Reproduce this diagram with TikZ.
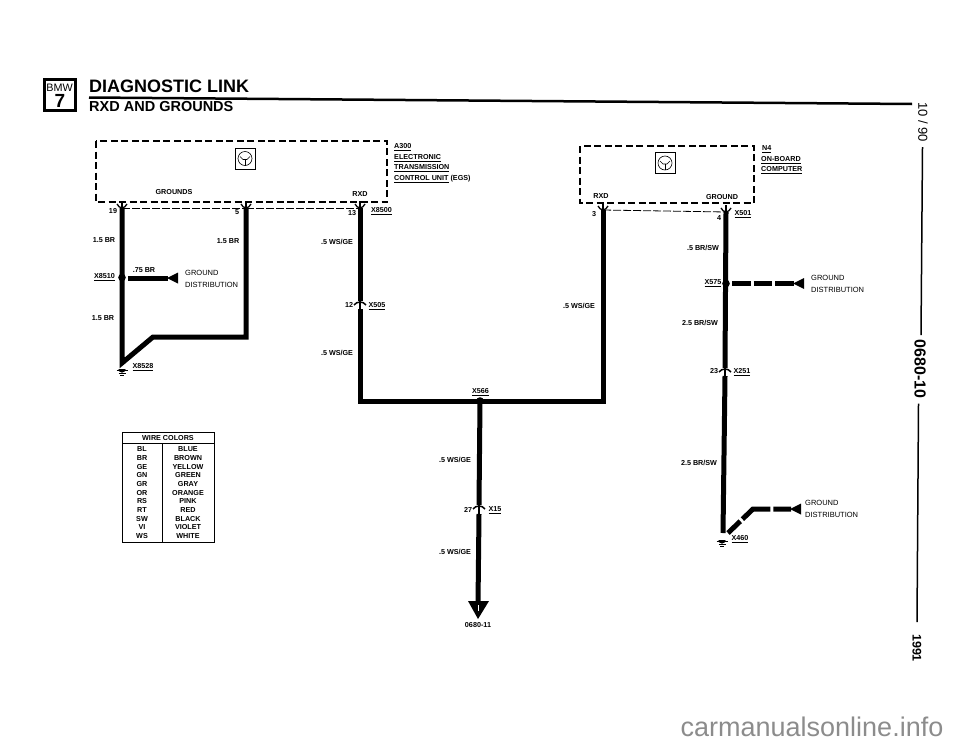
\documentclass[tikz,border=0pt]{standalone}
\usepackage{fontspec}
\setmainfont{Liberation Sans}
\usetikzlibrary{calc}
\tikzset{
  wire/.style={line width=5pt},
  branch/.style={line width=5pt, dash pattern=on 18.7pt off 3pt},
  modbox/.style={line width=1.2pt, dash pattern=on 7pt off 3.5pt},
  shield/.style={line width=0.8pt, dash pattern=on 8pt off 2pt},
  lbl/.style={font=\fontsize{7.2}{8}\selectfont\bfseries, inner sep=0pt},
  dist/.style={font=\fontsize{7.5}{12}\selectfont, align=left, inner sep=0pt, anchor=west},
  tbl/.style={font=\fontsize{7.2}{8}\selectfont\bfseries, inner sep=0pt},
  tip/.style={fill=black}
}
\newcommand{\eculogo}[1]{
  \draw[line width=0.9pt] ($(#1)+(-10,-10.5)$) rectangle ($(#1)+(10,10.5)$);
  \draw[line width=0.6pt] (#1) circle (7);
  \draw[line width=0.6pt] ($(#1)+(-5,-2)$) -- ($(#1)+(-2,1)$) -- ($(#1)+(2,1)$) -- ($(#1)+(5,-2)$);
  \draw[line width=0.6pt] ($(#1)+(0,1)$) -- ($(#1)+(0,7)$);
}
% pin at the foot of a module
\newcommand{\pincup}[1]{
  \draw[line width=1.3pt] ($(#1)+(-5,-4)$) .. controls ($(#1)+(-3,-1)$) .. ($(#1)+(0,0)$) .. controls ($(#1)+(3,-1)$) .. ($(#1)+(5,-4)$);
  \draw[line width=1.2pt] (#1) -- ++(0,-7);
}
% inline connector
\newcommand{\pinline}[1]{
  \draw[line width=1.5pt] ($(#1)+(-6,4)$) .. controls ($(#1)+(-3,0)$) and ($(#1)+(3,0)$) .. ($(#1)+(6,4)$);
  \draw[line width=1.5pt] (#1) -- ++(0,9);
}
\newcommand{\earth}[1]{
  \fill ($(#1)+(-3.6,0)$) arc (180:0:3.6) -- cycle;
  \draw[line width=1.2pt] ($(#1)+(-5.5,1.5)$) -- ++(11,0);
  \draw[line width=0.8pt] ($(#1)+(-3.5,4)$) -- ++(7,0);
  \draw[line width=0.8pt] ($(#1)+(-1.8,6.5)$) -- ++(3.6,0);
}
\begin{document}
\begin{tikzpicture}[x=1pt,y=-1pt]
\useasboundingbox (0,0) rectangle (960,744);

% heading
\draw[line width=3pt] (44.5,79.5) rectangle (75,110.5);
\node[inner sep=0pt, font=\fontsize{10.8}{11}\selectfont] (bmw) at (59.5,88) {BMW};
\node[inner sep=0pt, font=\fontsize{19}{19}\selectfont\bfseries] (seven) at (60,101) {7};
\node[inner sep=0pt, anchor=west, font=\fontsize{18}{18}\selectfont\bfseries] (title) at (89,86) {DIAGNOSTIC LINK};
\node[inner sep=0pt, anchor=west, font=\fontsize{14.5}{15}\selectfont\bfseries] (subtitle) at (89,107) {RXD AND GROUNDS};
\coordinate (ruleA) at (89,97.5);
\coordinate (ruleB) at (912,104);
\draw[line width=2.5pt] (ruleA) -- (ruleB);

% page margin
\node[rotate=-90, inner sep=0pt, font=\fontsize{13}{13}\selectfont] (date) at (923,122) {10 / 90};
\node[rotate=-90, inner sep=0pt, font=\fontsize{16}{16}\selectfont\bfseries] (page) at (920,369) {0680-10};
\node[rotate=-90, inner sep=0pt, font=\fontsize{12.5}{13}\selectfont\bfseries] (year) at (917,648) {1991};
\draw[line width=1.5pt] (date.east) ++(-0.5,5) -- (921,335);
\draw[line width=1.5pt] (page.east) ++(-1.5,5) -- (917,622);

% modules
\draw[modbox] (96,141) rectangle (387,202);
\draw[modbox] (580,146) rectangle (754,203);
\coordinate (logoA) at (245,158.5);
\coordinate (logoB) at (665,163);
\eculogo{logoA}
\eculogo{logoB}
\node[lbl, anchor=west] (a300) at (394,147) {\underline{A300}};
\node[lbl, anchor=west] (egsa) at (394,158) {\underline{ELECTRONIC}};
\node[lbl, anchor=west] (egsb) at (394,168.5) {\underline{TRANSMISSION}};
\node[lbl, anchor=west] (egsc) at (394,179) {\underline{CONTROL UNIT} (EGS)};
\node[lbl, anchor=west] (n4) at (762,149) {\underline{N4}};
\node[lbl, anchor=west] (obca) at (761,160) {\underline{ON-BOARD}};
\node[lbl, anchor=west] (obcb) at (761,170.5) {\underline{COMPUTER}};
\node[lbl] (grounds) at (174,192) {GROUNDS};
\node[lbl] (rxda) at (360,194) {RXD};
\node[lbl] (rxdb) at (601,196) {RXD};
\node[lbl] (groundb) at (722,197) {GROUND};

% pins under the modules
\coordinate (p19) at (122,208);
\coordinate (p5) at (246,208);
\coordinate (p13) at (360,208);
\coordinate (p3) at (603,210);
\coordinate (p4) at (726,212);
\draw[shield] (p19) -- (p5);
\draw[shield] (p5) -- (p13);
\draw[shield] (p3) -- (p4);
\foreach \pn in {p19,p5,p13,p3,p4}
  \pincup{\pn};
\node[lbl] (n19) at (113,211) {19};
\node[lbl] (n5) at (237,212) {5};
\node[lbl] (n13) at (352,213) {13};
\node[lbl] (n3) at (594,214) {3};
\node[lbl] (n4pin) at (719,218) {4};
\node[lbl] (x8500) at (381.5,211) {\underline{X8500}};
\node[lbl] (x501) at (743,214) {\underline{X501}};

% ground loop of the gearbox unit
\coordinate (gndA) at (122,363);
\coordinate (kink) at (153,337);
\coordinate (cornerA) at (246,337);
\coordinate (x8510) at (122,277.5);
\draw[wire, line join=miter] (p19) -- (gndA) -- (kink) -- (cornerA) -- (p5);
\fill (x8510) circle (3.8);
\coordinate (stubA) at (128,278);
\coordinate (stubB) at (168,278);
\draw[wire] (stubA) -- (stubB);
\fill[tip] (167,278) -- (178,272.5) -- (178,283.5) -- cycle;
\coordinate (earthA) at (122,369);
\earth{earthA}
\node[lbl] (w1) at (104,240) {1.5 BR};
\node[lbl] (w2) at (228,241) {1.5 BR};
\node[lbl] (w3) at (144,270) {.75 BR};
\node[lbl] (w4) at (103,318) {1.5 BR};
\node[lbl] (lx8510) at (104.5,277) {\underline{X8510}};
\node[lbl] (lx8528) at (143,367) {\underline{X8528}};
\node[dist] (distA) at (185,279) {GROUND\\DISTRIBUTION};

% RXD lines
\coordinate (x505) at (360,301);
\coordinate (x505b) at (360,309);
\coordinate (botA) at (360,401);
\coordinate (botB) at (603,401);
\coordinate (x566) at (480,401);
\coordinate (x15) at (479,505);
\coordinate (x15b) at (479,514);
\coordinate (arrowend) at (478,604);
\draw[wire] (p13) -- (x505);
\draw[wire, line join=miter] (x505b) -- (botA) -- (botB) -- (p3);
\draw[wire] (x566) -- (x15);
\draw[wire] (x15b) -- (arrowend);
\fill (x566) circle (3.8);
\pinline{x505}
\pinline{x15}
\fill[tip] (468,601) -- (489,601) -- (478,619) -- cycle;
\draw[white, line width=0.8pt] (478,605) -- (478,611);
\node[lbl] (w5) at (337,242) {.5 WS/GE};
\node[lbl] (w6) at (337,353) {.5 WS/GE};
\node[lbl] (w7) at (579,306) {.5 WS/GE};
\node[lbl] (w8) at (455,460) {.5 WS/GE};
\node[lbl] (w9) at (455,552) {.5 WS/GE};
\node[lbl] (n12) at (349,305) {12};
\node[lbl] (lx505) at (377,306) {\underline{X505}};
\node[lbl] (lx566) at (480.5,392) {\underline{X566}};
\node[lbl] (n27) at (468,510) {27};
\node[lbl] (lx15) at (495,510) {\underline{X15}};
\node[lbl] (ref) at (478,625.5) {0680-11};

% ground line of the computer
\coordinate (x251) at (725,368);
\coordinate (x251b) at (725,376);
\coordinate (gndB) at (723,533);
\coordinate (x575) at (726,283.5);
\draw[wire] (p4) -- (x251);
\draw[wire] (x251b) -- (gndB);
\pinline{x251}
\fill (x575) circle (3.8);
\coordinate (stubC) at (732,283.5);
\coordinate (stubD) at (794,283.5);
\draw[branch] (stubC) -- (stubD);
\fill[tip] (793,283.5) -- (804,278) -- (804,289) -- cycle;
\coordinate (stubE) at (728,533);
\coordinate (kinkB) at (753,509);
\coordinate (stubF) at (791,509);
\draw[wire, dash pattern=on 17pt off 3pt on 32pt off 3pt on 30pt off 0pt, line join=miter] (stubE) -- (kinkB) -- (stubF);
\fill[tip] (790,509) -- (801,503.5) -- (801,514.5) -- cycle;
\coordinate (earthB) at (722,540);
\earth{earthB}
\node[lbl] (w10) at (703,248) {.5 BR/SW};
\node[lbl] (w11) at (700,323) {2.5 BR/SW};
\node[lbl] (w12) at (699,463) {2.5 BR/SW};
\node[lbl] (lx575) at (713,283.5) {\underline{X575}};
\node[lbl] (n23) at (714,371) {23};
\node[lbl] (lx251) at (742,372) {\underline{X251}};
\node[lbl] (lx460) at (740,539) {\underline{X460}};
\node[dist] (distB) at (811,284) {GROUND\\DISTRIBUTION};
\node[dist] (distC) at (805,509) {GROUND\\DISTRIBUTION};

% wire colors
\draw[line width=0.8pt] (122,432) rectangle (214,542);
\draw[line width=0.8pt] (122,443) -- (214,443);
\draw[line width=0.8pt] (162,443) -- (162,542);
\node[tbl] (wirecolors) at (168,438) {WIRE COLORS};
\foreach \i/\cd/\nm in {0/BL/BLUE,1/BR/BROWN,2/GE/YELLOW,3/GN/GREEN,4/GR/GRAY,5/OR/ORANGE,6/RS/PINK,7/RT/RED,8/SW/BLACK,9/VI/VIOLET,10/WS/WHITE}
{
  \node[tbl] (code\i) at (142,449.5+8.65*\i) {\cd};
  \node[tbl] (name\i) at (188,449.5+8.65*\i) {\nm};
}

% watermark
\node[inner sep=0pt, text=black!45, font=\fontsize{27}{27}\selectfont] (mark) at (812,727) {carmanualsonline.info};
\end{tikzpicture}
\end{document}
